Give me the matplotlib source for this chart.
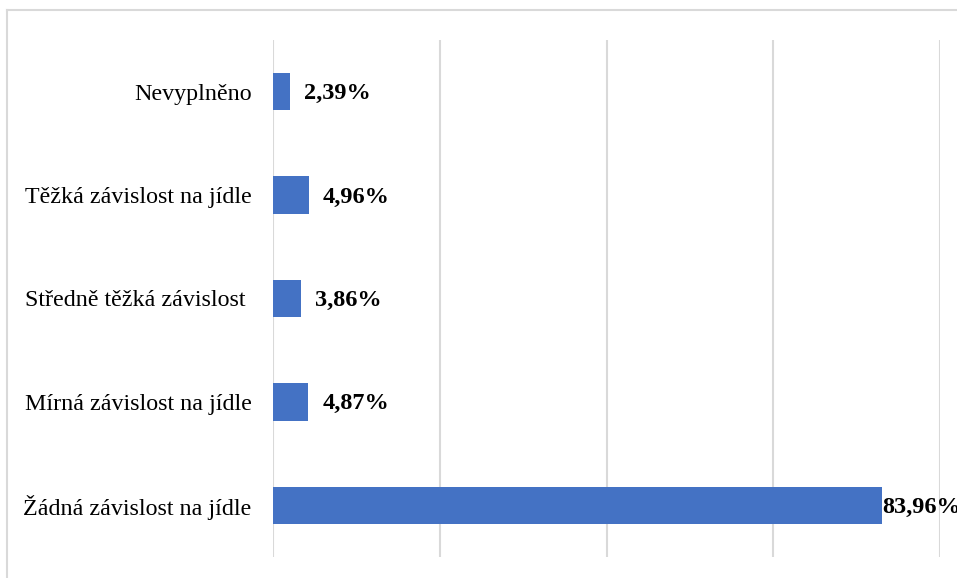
import matplotlib
matplotlib.use("Agg")
import matplotlib.pyplot as plt
from matplotlib.lines import Line2D
from matplotlib.transforms import offset_copy

categories = ["Žádná závislost na jídle", "Mírná závislost na jídle",
              "Středně těžká závislost ", "Těžká závislost na jídle", "Nevyplněno"]
values = [83.96, 4.87, 3.86, 4.96, 2.39]
labels = ["83,96%", "4,87%", "3,86%", "4,96%", "2,39%"]
grid_ticks = [0, 23, 46, 69, 92]

W, H = 957, 578
fig = plt.figure(figsize=(W / 100, H / 100), dpi=100)
fig.patch.set_facecolor("white")

# outer chart frame
fig.add_artist(Line2D([7.5 / W, 7.5 / W], [0, 1 - 10 / H], transform=fig.transFigure,
                      color="#d9d9d9", lw=1.5))
fig.add_artist(Line2D([7.5 / W, 1.0], [1 - 10 / H, 1 - 10 / H], transform=fig.transFigure,
                      color="#d9d9d9", lw=1.5))

ax = fig.add_axes([273 / W, 1 - 557 / H, 667 / W, 517 / H])
ypos = list(range(len(categories)))
ax.barh(ypos, values, height=0.36, color="#4472C4", zorder=3)
ax.set_xlim(grid_ticks[0], grid_ticks[-1])
ax.set_ylim(-0.5, len(categories) - 0.5)
ax.set_xticks(grid_ticks)
ax.set_xticklabels([])
ax.tick_params(axis="x", length=0)
ax.grid(axis="x", color="#d9d9d9", lw=1.5, zorder=0)
ax.set_yticks(ypos)
ax.set_yticklabels(categories, fontfamily="Liberation Serif", fontsize=17.3)
ax.tick_params(axis="y", length=0, pad=15.5)
for s in ax.spines.values():
    s.set_visible(False)

for y, v, lab in zip(ypos, values, labels):
    off = 1 if v > 80 else 14
    tr = offset_copy(ax.transData, fig=fig, x=off, y=-2, units="dots")
    ax.text(v, y, lab, transform=tr, ha="left", va="center",
            fontfamily="Liberation Serif", fontweight="bold", fontsize=17.5,
            clip_on=False)

fig.savefig("out.png", dpi=100)
